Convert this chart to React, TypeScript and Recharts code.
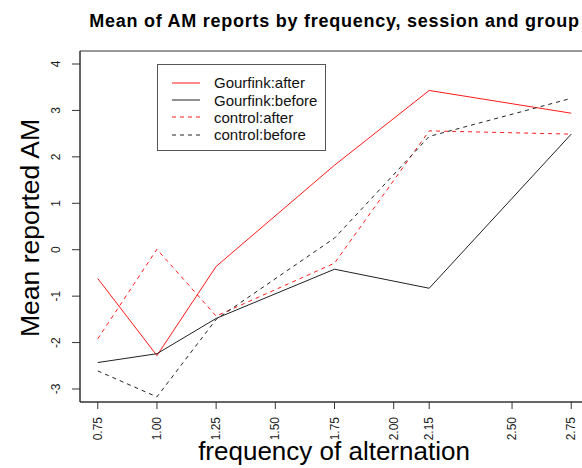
import { LineChart, Line, XAxis, YAxis, ReferenceArea, Legend } from "recharts";

const freq = [0.75, 1.0, 1.25, 1.75, 2.15, 2.75];
const gourfinkAfter = [-0.62, -2.28, -0.36, 1.82, 3.43, 2.94];
const gourfinkBefore = [-2.43, -2.24, -1.48, -0.42, -0.83, 2.49];
const controlAfter = [-1.92, 0.01, -1.43, -0.29, 2.56, 2.49];
const controlBefore = [-2.61, -3.17, -1.5, 0.25, 2.44, 3.26];

const xTicks = [0.75, 1.0, 1.25, 1.5, 1.75, 2.0, 2.15, 2.5, 2.75];
const yTicks = [-3, -2, -1, 0, 1, 2, 3, 4];

const FONT = '"Liberation Sans", Arial, Helvetica, sans-serif';
const RED = "#ff1a1a";
const BLACK = "#222222";

const series = [
  { key: "gourfinkAfter", name: "Gourfink:after", color: RED, dash: undefined },
  { key: "gourfinkBefore", name: "Gourfink:before", color: BLACK, dash: undefined },
  { key: "controlAfter", name: "control:after", color: RED, dash: "4 4" },
  { key: "controlBefore", name: "control:before", color: BLACK, dash: "4 4" },
];

const rows = freq.map((f, i) => ({
  freq: f,
  gourfinkAfter: gourfinkAfter[i],
  gourfinkBefore: gourfinkBefore[i],
  controlAfter: controlAfter[i],
  controlBefore: controlBefore[i],
}));

function XTick({ x, y, payload }: any) {
  const px = x + 4;
  return (
    <text
      x={px}
      y={y}
      transform={`rotate(-90, ${px}, ${y})`}
      textAnchor="end"
      fontSize={12}
      fontFamily={FONT}
      fill="#222"
    >
      {Number(payload.value).toFixed(2)}
    </text>
  );
}

function YTick({ x, y, payload }: any) {
  const px = x - 10;
  return (
    <text
      x={px}
      y={y}
      transform={`rotate(-90, ${px}, ${y})`}
      textAnchor="middle"
      fontSize={12}
      fontFamily={FONT}
      fill="#222"
    >
      {payload.value}
    </text>
  );
}

function LegendBox() {
  return (
    <div
      style={{
        width: 169,
        height: 87,
        border: "1px solid #555",
        background: "#fff",
        fontFamily: FONT,
        fontSize: 15,
        paddingTop: 9,
        boxSizing: "border-box",
      }}
    >
      {series.map((s) => (
        <div key={s.key} style={{ display: "flex", alignItems: "center", height: 17.4 }}>
          <svg width={56} height={10} style={{ flex: "none" }}>
            <line x1={14} x2={42} y1={5} y2={5} stroke={s.color} strokeWidth={1} strokeDasharray={s.dash} />
          </svg>
          <span style={{ color: "#111", lineHeight: "17px" }}>{s.name}</span>
        </div>
      ))}
    </div>
  );
}

export default function App() {
  return (
    <div style={{ position: "absolute", left: 0, top: 0, width: 582, height: 468, overflow: "hidden", background: "#fff" }}>
      <div
        style={{
          position: "absolute",
          left: 0,
          width: 669,
          top: 11,
          textAlign: "center",
          fontFamily: FONT,
          fontWeight: "bold",
          fontSize: 18,
          letterSpacing: 0.75,
          color: "#000",
        }}
      >
        Mean of AM reports by frequency, session and group
      </div>
      <LineChart width={600} height={468} data={rows} margin={{ top: 51, right: 11, bottom: 0, left: 0 }}>
        <ReferenceArea
          x1={0.675}
          x2={2.825}
          y1={-3.28}
          y2={4.28}
          fill="none"
          stroke="#333"
          strokeWidth={1}
          fillOpacity={0}
          ifOverflow="visible"
        />
        <XAxis
          dataKey="freq"
          type="number"
          domain={[0.675, 2.825]}
          ticks={xTicks}
          height={66}
          tickSize={7}
          tickMargin={8}
          stroke="#333"
          tick={<XTick />}
          interval={0}
          allowDataOverflow
        />
        <YAxis
          type="number"
          domain={[-3.28, 4.28]}
          ticks={yTicks}
          width={80}
          tickSize={8}
          tickMargin={2}
          stroke="#333"
          tick={<YTick />}
          interval={0}
          allowDataOverflow
        />
        <Legend
          layout="vertical"
          align="center"
          verticalAlign="middle"
          wrapperStyle={{ left: 157, top: 64, width: 169, height: 87 }}
          content={() => <LegendBox />}
        />
        {series.map((s) => (
          <Line
            key={s.key}
            type="linear"
            dataKey={s.key}
            name={s.name}
            stroke={s.color}
            strokeWidth={1}
            strokeDasharray={s.dash}
            dot={false}
            activeDot={false}
            isAnimationActive={false}
          />
        ))}
      </LineChart>
      <div
        style={{
          position: "absolute",
          left: 30,
          top: 228,
          transform: "translate(-50%, -50%) rotate(-90deg)",
          whiteSpace: "nowrap",
          fontFamily: FONT,
          fontSize: 26.5,
          color: "#000",
          lineHeight: "26px",
        }}
      >
        Mean reported AM
      </div>
      <div
        style={{
          position: "absolute",
          left: 334,
          top: 451,
          transform: "translate(-50%, -50%)",
          whiteSpace: "nowrap",
          fontFamily: FONT,
          fontSize: 26,
          color: "#000",
          lineHeight: "26px",
        }}
      >
        frequency of alternation
      </div>
    </div>
  );
}
